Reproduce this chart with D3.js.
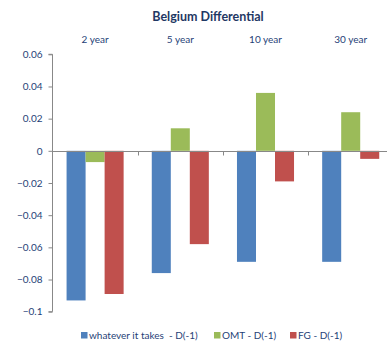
<!DOCTYPE html>
<html>
<head>
<meta charset="utf-8">
<script src="https://cdn.jsdelivr.net/npm/d3@7"></script>
<style>
  html, body { margin: 0; padding: 0; background: #fff; }
  svg { display: block; font-family: Lato, "Open Sans", sans-serif; }
</style>
</head>
<body>
<svg id="chart" width="387" height="341"></svg>
<script>
// Maturities along the top, one group of bars each
const categories = ["2 year", "5 year", "10 year", "30 year"];
const seriesNames = ["whatever it takes  - D(-1)", "OMT - D(-1)", "FG - D(-1)"];
const whateverItTakes = [-0.093, -0.076, -0.069, -0.069];
const omt = [-0.007, 0.014, 0.036, 0.024];
const fg = [-0.089, -0.058, -0.019, -0.005];
const yTicks = [0.06, 0.04, 0.02, 0, -0.02, -0.04, -0.06, -0.08, -0.1];
const colors = ["#4F81BD", "#9BBB59", "#C0504D"];

const seriesValues = [whateverItTakes, omt, fg];
const rows = categories.map((c, i) => ({
  cat: c,
  vals: seriesNames.map((s, j) => ({ key: s, value: seriesValues[j][i], color: colors[j] }))
}));

const svg = d3.select("#chart");
const textColor = "#1F3F77";
const axisColor = "#888888";

const y = d3.scaleLinear().domain([-0.1, 0.06]).range([311.7, 54.3]);
const x0 = d3.scaleBand().domain(categories).range([52.5, 393.3]);
const x1 = d3.scaleBand().domain(seriesNames).range([0, x0.bandwidth()])
  .paddingInner(0).paddingOuter(0.74);

// Title
svg.append("text")
  .attr("x", 208).attr("y", 21)
  .attr("text-anchor", "middle")
  .attr("font-weight", "bold")
  .attr("font-size", 12.5)
  .attr("fill", "#1F3864")
  .text("Belgium Differential");

// Category labels above the plot
svg.append("g").selectAll("text")
  .data(categories).join("text")
  .attr("x", d => x0(d) + x0.bandwidth() / 2)
  .attr("y", 43)
  .attr("text-anchor", "middle")
  .attr("font-size", 10)
  .attr("fill", textColor)
  .text(d => d);

// Bars
const groups = svg.append("g").selectAll("g")
  .data(rows).join("g")
  .attr("transform", d => `translate(${x0(d.cat)},0)`);
groups.selectAll("rect")
  .data(d => d.vals).join("rect")
  .attr("x", d => x1(d.key))
  .attr("width", x1.bandwidth())
  .attr("y", d => y(Math.max(0, d.value)))
  .attr("height", d => Math.abs(y(d.value) - y(0)))
  .attr("fill", d => d.color);

// Value axis on the left
const yAxis = svg.append("g")
  .attr("transform", "translate(52.5,0)")
  .call(d3.axisLeft(y).tickValues(yTicks).tickSize(4).tickPadding(6)
    .tickFormat(d => d === 0 ? "0" : d3.format("")(+d.toFixed(2))));
yAxis.select(".domain").attr("stroke", axisColor).attr("d", `M-4,${y(0.06)}H0V${y(-0.1)}H-4`);
yAxis.selectAll(".tick line").attr("stroke", axisColor);
yAxis.selectAll(".tick text").attr("fill", textColor).attr("font-size", 10)
  .attr("font-family", "Lato, sans-serif");

// Zero line with category separators
const zeroY = Math.round(y(0)) + 0.5;
svg.append("line")
  .attr("x1", 52.5).attr("x2", 393.3)
  .attr("y1", zeroY).attr("y2", zeroY)
  .attr("stroke", axisColor);
svg.append("g").selectAll("line")
  .data(categories.slice(1)).join("line")
  .attr("x1", d => Math.round(x0(d)) + 0.5).attr("x2", d => Math.round(x0(d)) + 0.5)
  .attr("y1", zeroY).attr("y2", zeroY + 4)
  .attr("stroke", axisColor);

// Legend
const legendX = [81, 214, 290];
const legend = svg.append("g").selectAll("g")
  .data(seriesNames).join("g")
  .attr("transform", (d, i) => `translate(${legendX[i]},332)`);
legend.append("rect")
  .attr("width", 6.5).attr("height", 6.5)
  .attr("fill", (d, i) => colors[i]);
legend.append("text")
  .attr("x", 8).attr("y", 6.5)
  .attr("font-size", 10)
  .attr("fill", textColor)
  .style("white-space", "pre")
  .text(d => d);
</script>
</body>
</html>
